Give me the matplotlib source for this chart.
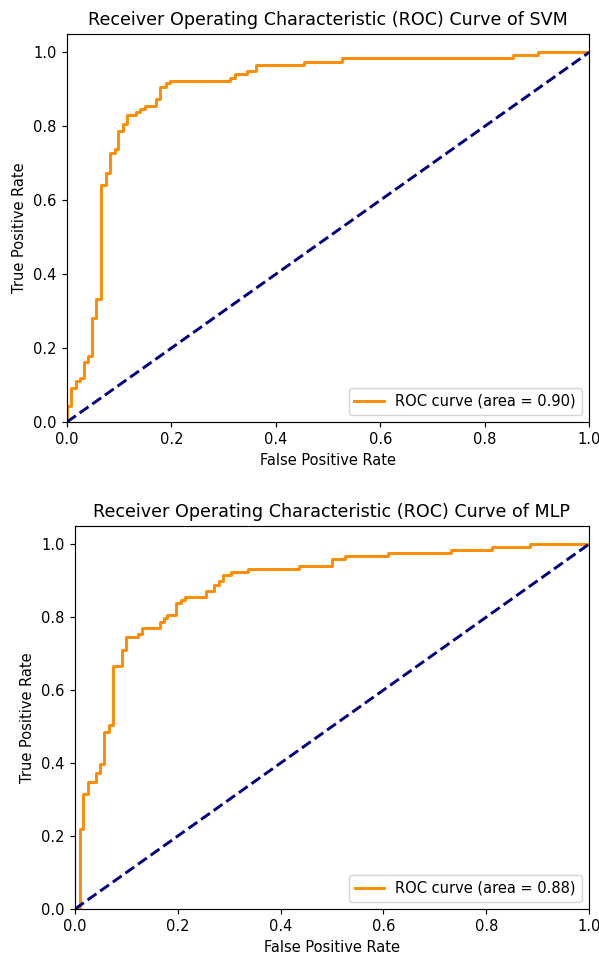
import numpy as np
import matplotlib
matplotlib.use("Agg")
import matplotlib.pyplot as plt

# ROC points (false positive rate, true positive rate) for each model
svm_fpr = [0, 0, .0083, .0166, .0243, .0326, .0403, .0486, .0562, .0658, .0741,
           .0818, .0914, .0984, .1073, .1157, .1316, .1393, .1489, .1712, .1789,
           .1891, .1968, .3118, .3214, .345, .3617, .4537, .5259, .854, .902, 1.0]
svm_tpr = [0, .042, .093, .111, .119, .162, .178, .282, .332, .640, .673,
           .727, .738, .788, .805, .831, .838, .847, .856, .874, .907,
           .916, .923, .932, .941, .950, .967, .974, .985, .994, 1.0, 1.0]
svm_auc = 0.90

mlp_fpr = [0, .0091, .0162, .0247, .0403, .0481, .0565, .0662, .0747, .0909, .0987,
           .1227, .1312, .1649, .1734, .1799, .1974, .2058, .2143, .2545, .2708,
           .2792, .287, .3032, .337, .4351, .5006, .525, .608, .731, .811, .885, 1.0]
mlp_tpr = [0, .220, .314, .348, .374, .398, .485, .504, .666, .710, .745,
           .753, .771, .788, .797, .805, .838, .847, .855, .873, .888,
           .898, .916, .923, .931, .940, .959, .968, .976, .984, .993, 1.0, 1.0]
mlp_auc = 0.88

models = [("SVM", svm_fpr, svm_tpr, svm_auc), ("MLP", mlp_fpr, mlp_tpr, mlp_auc)]
boxes = [[0.1119, 0.5577, 0.8715, 0.4067], [0.1252, 0.0472, 0.8581, 0.4015]]

dpi = 105
fig = plt.figure(figsize=(599 / dpi, 954 / dpi), dpi=dpi)
for (name, fpr, tpr, auc), box in zip(models, boxes):
    ax = fig.add_axes(box)
    ax.plot(fpr, tpr, color="darkorange", lw=2, drawstyle="steps-post",
            label="ROC curve (area = %0.2f)" % auc)
    ax.plot([0, 1], [0, 1], color="navy", lw=2, linestyle="--")
    ax.set_xlim([0.0, 1.0])
    ax.set_ylim([0.0, 1.05])
    ax.set_xlabel("False Positive Rate")
    ax.set_ylabel("True Positive Rate")
    ax.set_title("Receiver Operating Characteristic (ROC) Curve of " + name)
    ax.legend(loc="lower right")

fig.savefig("out.png", dpi=dpi)
